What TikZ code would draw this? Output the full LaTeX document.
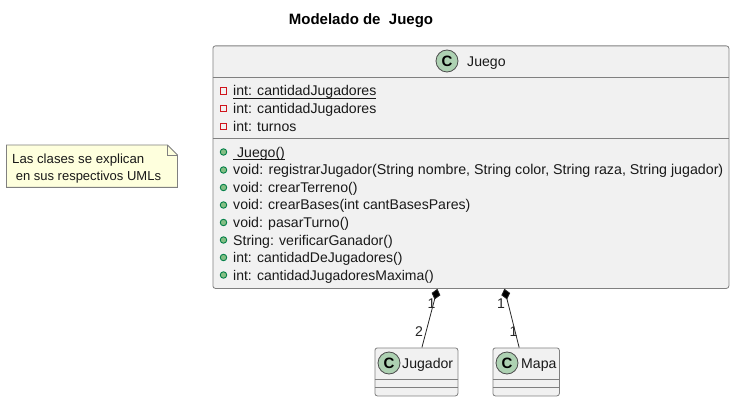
\documentclass[tikz,border=0pt]{standalone}
\usepackage{fontspec}
\setmainfont{Liberation Sans}
\usetikzlibrary{arrows.meta}
\definecolor{boxfill}{HTML}{F1F1F1}
\definecolor{boxline}{HTML}{808080}
\definecolor{iconfill}{HTML}{ADD1B2}
\definecolor{notefill}{HTML}{FEFFDD}
\definecolor{privred}{HTML}{D0141C}
\definecolor{pubfill}{HTML}{84BE84}
\definecolor{publine}{HTML}{038048}
\newcommand{\mfont}{\fontsize{14.1}{16}\selectfont}
\newsavebox{\ubox}
\newcommand{\mund}[1]{\sbox{\ubox}{#1}\leavevmode\rlap{\raisebox{-2.4pt}{\rule{\wd\ubox}{0.8pt}}}\usebox{\ubox}}
\tikzset{
  x=1pt,y=-1pt,
  classbox/.style={draw=boxline,fill=boxfill,rounded corners=2.5pt,line width=0.8pt,inner sep=0pt,anchor=north west},
  sepline/.style={draw=boxline,line width=0.8pt},
  icon/.style={circle,draw=black!70,fill=iconfill,line width=0.8pt,minimum size=22pt,inner sep=0pt,font=\fontsize{15}{15}\selectfont\bfseries},
  member/.style={anchor=base west,inner sep=0pt,font=\mfont,text=black!90},
  cname/.style={anchor=base west,inner sep=0pt,font=\mfont,text=black!90},
  privmark/.style={draw=privred,line width=1.1pt,minimum size=6.5pt,inner sep=0pt},
  pubmark/.style={circle,draw=publine,fill=pubfill,line width=0.9pt,minimum size=6.5pt,inner sep=0pt},
  comp/.style={draw=black!85,line width=0.8pt,{Diamond[length=11pt,width=9pt,fill=black]}-},
  mult/.style={font=\mfont,inner sep=0pt,text=black!85},
  notetext/.style={anchor=base west,inner sep=0pt,text=black!90},
}
\begin{document}
\begin{tikzpicture}
\useasboundingbox (0,0) rectangle (734,401);
\node[anchor=base,font=\fontsize{15}{17}\selectfont\bfseries,inner sep=0pt] (title) at (361,25) {Modelado de\ \ Juego};

% note
\node[anchor=north west,minimum width=171pt,minimum height=42pt,inner sep=0pt] (note) at (6.5,145) {};
\fill[notefill] (note.north west) -- ++(161,0) -- ++(10,10) |- (note.south west) -- cycle;
\draw[draw=boxline,line width=0.8pt] (note.north west) -- ++(161,0) -- ++(10,10) |- (note.south west) -- cycle;
\draw[draw=boxline,line width=0.8pt] ([xshift=161pt]note.north west) |- ++(10,10);
\node[notetext,font=\fontsize{13.2}{15}\selectfont] (n1) at (12,164) {Las clases se explican};
\node[notetext,font=\fontsize{13}{15}\selectfont] (n2) at (12,181) {\ en sus respectivos UMLs};

% Juego
\node[classbox,minimum width=516pt,minimum height=242.5pt] (juego) at (212.5,45.5) {};
\draw[sepline] (212.5,77) -- (728.5,77);
\draw[sepline] (212.5,138) -- (728.5,138);
\node[icon] (jicon) at (447,61) {C};
\node[cname] (jname) at (467,66.5) {Juego};

\node[privmark] (p1) at (223.5,91) {};
\node[privmark] (p2) at (223.5,108.5) {};
\node[privmark] (p3) at (223.5,126.5) {};
\node[member] (a1) at (233,96) {\mund{int: cantidadJugadores}};
\node[member] (a2) at (233,114) {int: cantidadJugadores};
\node[member] (a3) at (233,131.5) {int: turnos};

\node[pubmark] (m1) at (223.5,152) {};
\node[pubmark] (m2) at (223.5,170) {};
\node[pubmark] (m3) at (223.5,187.5) {};
\node[pubmark] (m4) at (223.5,205) {};
\node[pubmark] (m5) at (223.5,222.5) {};
\node[pubmark] (m6) at (223.5,240) {};
\node[pubmark] (m7) at (223.5,257.5) {};
\node[pubmark] (m8) at (223.5,275) {};
\node[member] (t1) at (233,157.5) {\mund{\ Juego()}};
\node[member,font=\fontsize{14.23}{16}\selectfont] (t2) at (233,175) {void: registrarJugador(String nombre, String color, String raza, String jugador)};
\node[member] (t3) at (233,192.5) {void: crearTerreno()};
\node[member] (t4) at (233,210) {void: crearBases(int cantBasesPares)};
\node[member] (t5) at (233,227.5) {void: pasarTurno()};
\node[member] (t6) at (233,245) {String: verificarGanador()};
\node[member,font=\fontsize{14}{16}\selectfont] (t7) at (233,262.5) {int: cantidadDeJugadores()};
\node[member,font=\fontsize{14}{16}\selectfont] (t8) at (233,280) {int: cantidadJugadoresMaxima()};

% Jugador
\node[classbox,minimum width=83pt,minimum height=48pt] (jugador) at (374.5,347.5) {};
\draw[sepline] (374.5,379) -- (457.5,379);
\draw[sepline] (374.5,387) -- (457.5,387);
\node[icon] (gicon) at (389,363) {C};
\node[cname] (gname) at (402,368.5) {Jugador};

% Mapa
\node[classbox,minimum width=66.5pt,minimum height=48pt] (mapa) at (492.5,347.5) {};
\draw[sepline] (492.5,379) -- (559,379);
\draw[sepline] (492.5,387) -- (559,387);
\node[icon] (micon) at (507,363) {C};
\node[cname] (mname) at (521,368.5) {Mapa};

% connectors
\draw[comp] ([xshift=-33.5pt]juego.south) -- ([xshift=5.5pt]jugador.north);
\draw[comp] ([xshift=33.5pt]juego.south) -- ([xshift=-7pt]mapa.north);
\node[mult] (l1) at (431.5,304) {1};
\node[mult] (l2) at (419,332) {2};
\node[mult] (l3) at (501,304) {1};
\node[mult] (l4) at (513.5,332) {1};
\end{tikzpicture}
\end{document}
